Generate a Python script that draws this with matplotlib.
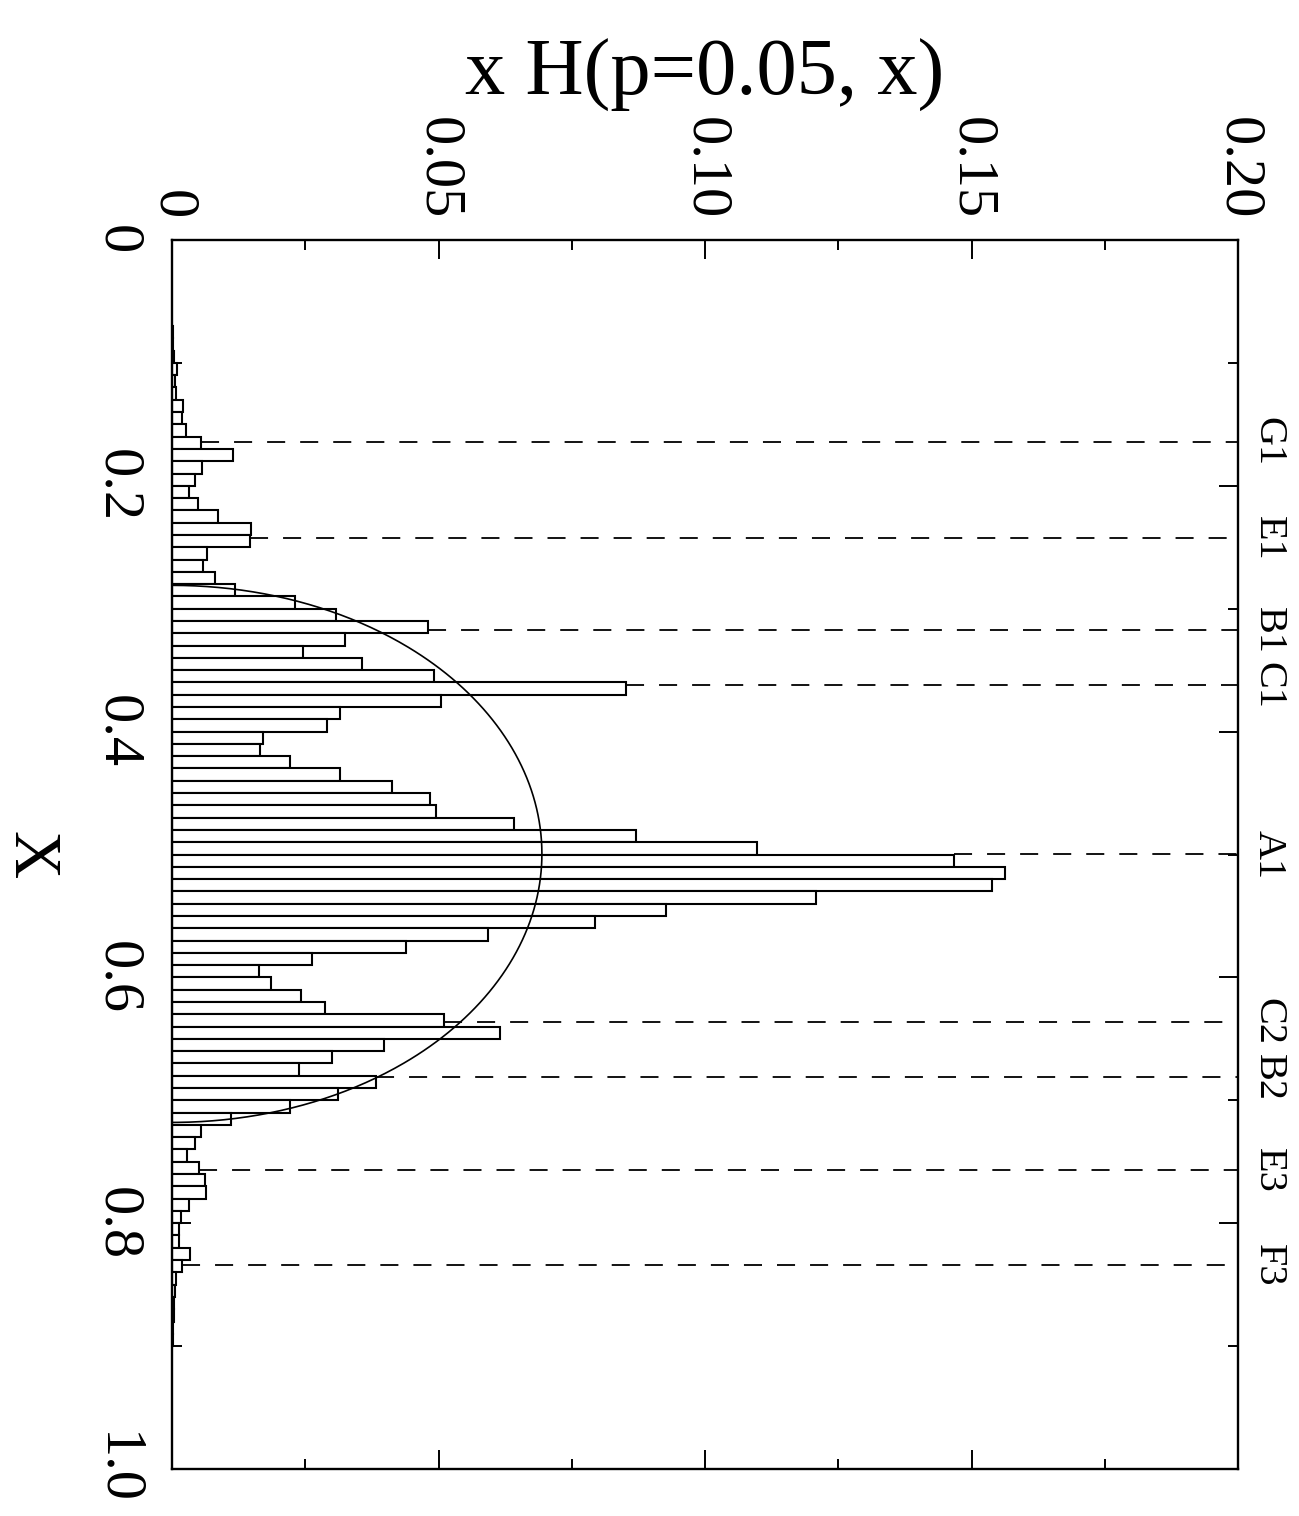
import numpy as np
import matplotlib
matplotlib.use("Agg")
import matplotlib.pyplot as plt

plt.rcParams['font.family'] = ['Liberation Serif', 'DejaVu Serif']

# Histogram: bins of width 0.01, first bin starts at X = 0.07
bin_start = 0.07
bin_width = 0.01
hist_values = [
    0.0001, 0.0002, 0.0003, 0.0009, 0.0006, 0.0007, 0.0020, 0.0018, 0.0026, 0.0054,
    0.0115, 0.0056, 0.0043, 0.0031, 0.0049, 0.0086, 0.0148, 0.0146, 0.0066, 0.0058,
    0.0080, 0.0119, 0.0231, 0.0307, 0.0481, 0.0325, 0.0245, 0.0356, 0.0492, 0.0852,
    0.0505, 0.0315, 0.0290, 0.0170, 0.0166, 0.0221, 0.0316, 0.0412, 0.0484, 0.0495,
    0.0642, 0.0871, 0.1098, 0.1468, 0.1563, 0.1538, 0.1208, 0.0927, 0.0794, 0.0592,
    0.0439, 0.0262, 0.0164, 0.0185, 0.0242, 0.0287, 0.0510, 0.0616, 0.0398, 0.0301,
    0.0238, 0.0382, 0.0311, 0.0221, 0.0110, 0.0054, 0.0043, 0.0029, 0.0051, 0.0061,
    0.0063, 0.0032, 0.0016, 0.0014, 0.0014, 0.0034, 0.0018, 0.0007, 0.0005, 0.0004,
    0.0003, 0.0002, 0.0001,
]

# Semicircle curve
semi_center = 0.4995
semi_radius = 0.2185
semi_height = 0.0694

# Labelled dashed markers
marker_names = ['G1', 'E1', 'B1', 'C1', 'A1', 'C2', 'B2', 'E3', 'F3']
marker_x = [0.1641, 0.2427, 0.3173, 0.3621, 0.4998, 0.6360, 0.6813, 0.7567, 0.8340]
marker_start = [0.0054, 0.0146, 0.0481, 0.0852, 0.1468, 0.0510, 0.0382, 0.0051, 0.0018]

# Ticks
val_ticks = [0, 0.05, 0.10, 0.15, 0.20]
val_labels = ['0', '0.05', '0.10', '0.15', '0.20']
x_ticks = [0, 0.2, 0.4, 0.6, 0.8, 1.0]
x_labels = ['0', '0.2', '0.4', '0.6', '0.8', '1.0']

W, H = 1299, 1516
fig = plt.figure(figsize=(W / 100, H / 100), dpi=100)
ax = fig.add_axes([172 / W, 1 - 1469 / H, (1238 - 172) / W, (1469 - 240) / H])

# histogram, drawn sideways
bins = bin_start + bin_width * np.arange(len(hist_values))
ax.barh(bins, hist_values, height=bin_width, align='edge',
        color='white', edgecolor='black', linewidth=1.5, zorder=2)

# semicircle
t = np.linspace(0, np.pi, 400)
cx = semi_center - semi_radius * np.cos(t)
cy = semi_height * np.sin(t)
ax.plot(cy, cx, color='black', lw=1.2, zorder=3)

# dashed markers + labels on the right
for name, mx, ms in zip(marker_names, marker_x, marker_start):
    ax.plot([ms, 0.2], [mx, mx], color='black', lw=1.3,
            linestyle=(0, (13 / 1.3, 10.8 / 1.3)), zorder=3)
    ax.text(1.011, mx, name, transform=ax.get_yaxis_transform(), fontsize=29,
            rotation=270, ha='left', va='center')

ax.set_xlim(0, 0.2)
ax.set_ylim(1, 0)

ax.xaxis.tick_top()
ax.set_xticks(val_ticks)
ax.set_xticklabels(val_labels, rotation=270, fontsize=42)
ax.set_xticks(np.arange(0, 0.2001, 0.025), minor=True)
ax.set_yticks(x_ticks)
ax.set_yticklabels(x_labels, rotation=270, fontsize=42, va='center')
ax.set_yticks(np.arange(0, 1.0001, 0.1), minor=True)

ax.tick_params(which='both', direction='in', top=True, bottom=True,
               left=True, right=True, labeltop=True, labelbottom=False,
               labelleft=True, labelright=False, width=1.4)
ax.tick_params(which='major', length=14)
ax.tick_params(which='minor', length=7)
ax.tick_params(axis='x', pad=15)
ax.tick_params(axis='y', pad=21)
for s in ax.spines.values():
    s.set_linewidth(1.7)

fig.text(705 / W, 1 - 95 / H, 'x H(p=0.05, x)', fontsize=58,
         ha='center', va='baseline')
fig.text(30 / W, 1 - 855 / H, 'X', fontsize=48, rotation=270,
         ha='center', va='center')

fig.savefig('out.png', dpi=100)
